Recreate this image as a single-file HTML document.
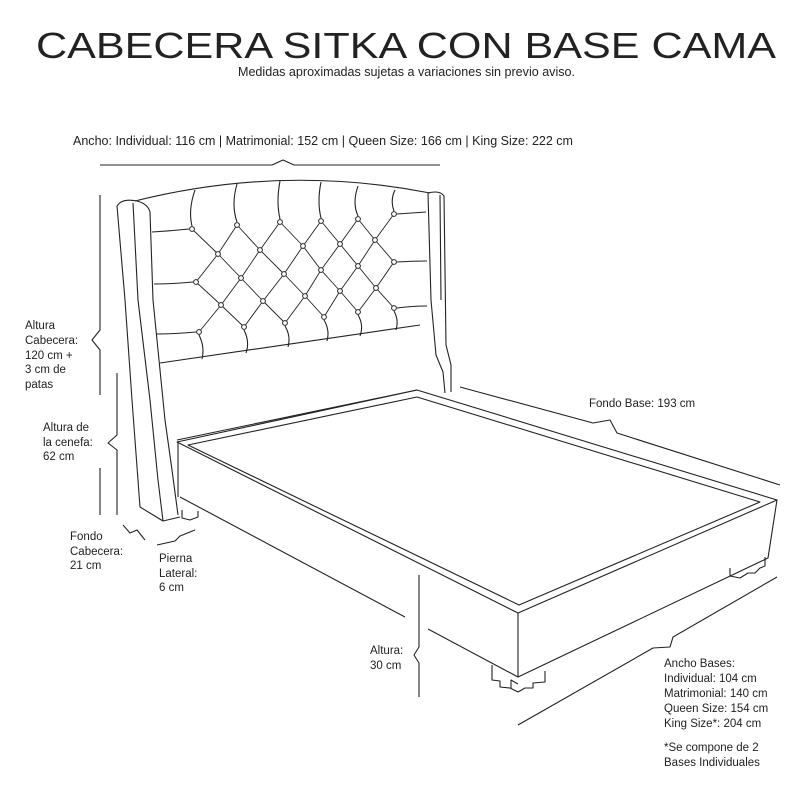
<!DOCTYPE html>
<html><head><meta charset="utf-8"><style>
html,body{margin:0;padding:0;background:#fff}
svg{display:block}
text{font-family:"Liberation Sans",sans-serif;fill:#222}
</style></head><body>
<svg width="800" height="800" viewBox="0 0 800 800" xmlns="http://www.w3.org/2000/svg">
<rect width="800" height="800" fill="#fff"/>
<text x="36" y="58" font-size="36" textLength="740" lengthAdjust="spacingAndGlyphs" fill="#111">CABECERA SITKA CON BASE CAMA</text>
<text x="238" y="76" font-size="12.5" textLength="337" lengthAdjust="spacingAndGlyphs">Medidas aproximadas sujetas a variaciones sin previo aviso.</text>
<text x="73" y="145" font-size="12.5" textLength="500" lengthAdjust="spacingAndGlyphs">Ancho: Individual: 116 cm | Matrimonial: 152 cm | Queen Size: 166 cm | King Size: 222 cm</text>

<g font-size="11.5">
<text x="25" y="329">Altura</text><text x="25" y="344">Cabecera:</text><text x="25" y="359">120 cm +</text><text x="25" y="373">3 cm de</text><text x="25" y="388">patas</text>
<text x="43" y="431">Altura de</text><text x="43" y="446">la cenefa:</text><text x="43" y="460">62 cm</text>
<text x="70" y="540">Fondo</text><text x="70" y="555">Cabecera:</text><text x="70" y="569">21 cm</text>
<text x="159" y="562">Pierna</text><text x="159" y="577">Lateral:</text><text x="159" y="591">6 cm</text>
<text x="370" y="654">Altura:</text><text x="370" y="669">30 cm</text>
<text x="589" y="407">Fondo Base: 193 cm</text>
<text x="664" y="667">Ancho Bases:</text><text x="664" y="682">Individual: 104 cm</text><text x="664" y="697">Matrimonial: 140 cm</text><text x="664" y="712">Queen Size: 154 cm</text><text x="664" y="727">King Size*: 204 cm</text>
<text x="664" y="751">*Se compone de 2</text><text x="664" y="766">Bases Individuales</text>
</g>

<g fill="none" stroke="#222" stroke-width="1.1" stroke-linejoin="round">
<path d="M100,165 L272,165 L283,160 L294,165 L440,165"/>
<path d="M100,195 L100,330 L92,340 L100,350 L100,395"/>
<path d="M100,468 L100,515"/>
<path d="M117,373 L117,435 L108,443 L117,450 L117,515"/>
<path d="M123,525 L130,533 L137,530 L145,540"/>
<path d="M157,545 L175,541 L180,536 L195,530"/>
<path d="M460,387 L593,423 L610,420 L617,433 L780,485"/>
<path d="M777,577 L673,637 L670,647 L653,648 L518,725"/>
<path d="M419,575 L419,647 L414,655 L419,663 L419,697"/>

<path d="M135,201 Q283,164 430,193"/>
<path d="M160,363 L420,325"/>
<path d="M177,440 L417,390"/>
<path d="M137,201 Q122,198 117,206 L125,300 L132,400 L140,507 L163,521 L180,517"/>
<path d="M133,203 L138,300 L150,400 L158,480 L163,521"/>
<path d="M137,201 Q148,204 150,212 L153,300 L165,420 L172,470 L178,515"/>
<path d="M428,193 L431,300 L436,355 L443,372 L445,393"/>
<path d="M428,193 Q440,190 444,196 L446,345 L451,365 L451,392"/>
<path d="M440,195 L441,300"/>

<path d="M177,442 L417,390 L777,500 L518,613 Z"/>
<path d="M188,445 L417,397 L760,502 L519,605 Z"/>
<path d="M518,613 L518,677 L768,558 L777,500"/>
<path d="M180,497 L405,617"/>
<path d="M428,629 L518,677"/>
<path d="M178,442 L178,497"/>
<path d="M492,665 L492,680 L500,681 L500,687 L510,688 L518,692 L525,688 L533,688 L533,683 L545,682 L545,671"/>
<path d="M511,688 L511,680 L518,684"/>
<path d="M730,568 L730,576 L740,578 L748,573 L755,573 L760,568 L765,566 L765,557"/>
<path d="M182,510 L182,518 L190,520 L198,517 L198,511"/>

<path d="M195,190 Q188,210 192,226"/>
<path d="M237,184 Q231,205 237,222"/>
<path d="M280,181 Q276,202 280,219"/>
<path d="M321,182 Q317,202 321,218"/>
<path d="M358,186 Q352,203 358,216"/>
<path d="M395,190 Q390,200 394,211"/>
<path d="M199,335 Q205,347 202,359"/>
<path d="M244,330 Q250,342 246,353"/>
<path d="M285,326 Q291,336 288,347"/>
<path d="M324,320 Q330,330 327,341"/>
<path d="M358,315 Q364,325 360,336"/>
<path d="M394,311 Q399,320 396,330"/>
<path d="M152,232 Q170,231 189,229"/>
<path d="M154,284 Q172,284 193,282"/>
<path d="M156,334 Q174,334 196,332"/>
<path d="M397,214 Q412,213 426,212"/>
<path d="M397,262 Q412,261 427,261"/>
<path d="M397,308 Q412,306 427,306"/>

<g stroke-width="0.9">
<path d="M192,229 L218,254 L241,278 L263,301 L285,323"/>
<path d="M237,225 L260,250 L284,274 L305,296 L324,317"/>
<path d="M280,222 L303,246 L321,270 L340,291 L358,312"/>
<path d="M321,221 L340,244 L358,266 L376,288 L394,308"/>
<path d="M358,219 L375,240 L394,262"/>
<path d="M196,282 L221,305 L244,327"/>
<path d="M237,225 L218,254 L196,282"/>
<path d="M280,222 L260,250 L241,278 L221,305 L199,332"/>
<path d="M321,221 L303,246 L284,274 L263,301 L244,327"/>
<path d="M358,219 L340,244 L321,270 L305,296 L285,323"/>
<path d="M394,214 L375,240 L358,266 L340,291 L324,317"/>
<path d="M394,262 L376,288 L358,312"/>
</g>
</g>
<g fill="#fff" stroke="#222" stroke-width="1">
<circle cx="192" cy="229" r="2.4"/><circle cx="237" cy="225" r="2.4"/><circle cx="280" cy="222" r="2.4"/><circle cx="321" cy="221" r="2.4"/><circle cx="358" cy="219" r="2.4"/><circle cx="394" cy="214" r="2.4"/>
<circle cx="218" cy="254" r="2.4"/><circle cx="260" cy="250" r="2.4"/><circle cx="303" cy="246" r="2.4"/><circle cx="340" cy="244" r="2.4"/><circle cx="375" cy="240" r="2.4"/>
<circle cx="196" cy="282" r="2.4"/><circle cx="241" cy="278" r="2.4"/><circle cx="284" cy="274" r="2.4"/><circle cx="321" cy="270" r="2.4"/><circle cx="358" cy="266" r="2.4"/><circle cx="394" cy="262" r="2.4"/>
<circle cx="221" cy="305" r="2.4"/><circle cx="263" cy="301" r="2.4"/><circle cx="305" cy="296" r="2.4"/><circle cx="340" cy="291" r="2.4"/><circle cx="376" cy="288" r="2.4"/>
<circle cx="199" cy="332" r="2.4"/><circle cx="244" cy="327" r="2.4"/><circle cx="285" cy="323" r="2.4"/><circle cx="324" cy="317" r="2.4"/><circle cx="358" cy="312" r="2.4"/><circle cx="394" cy="308" r="2.4"/>
</g>
</svg>
</body></html>
